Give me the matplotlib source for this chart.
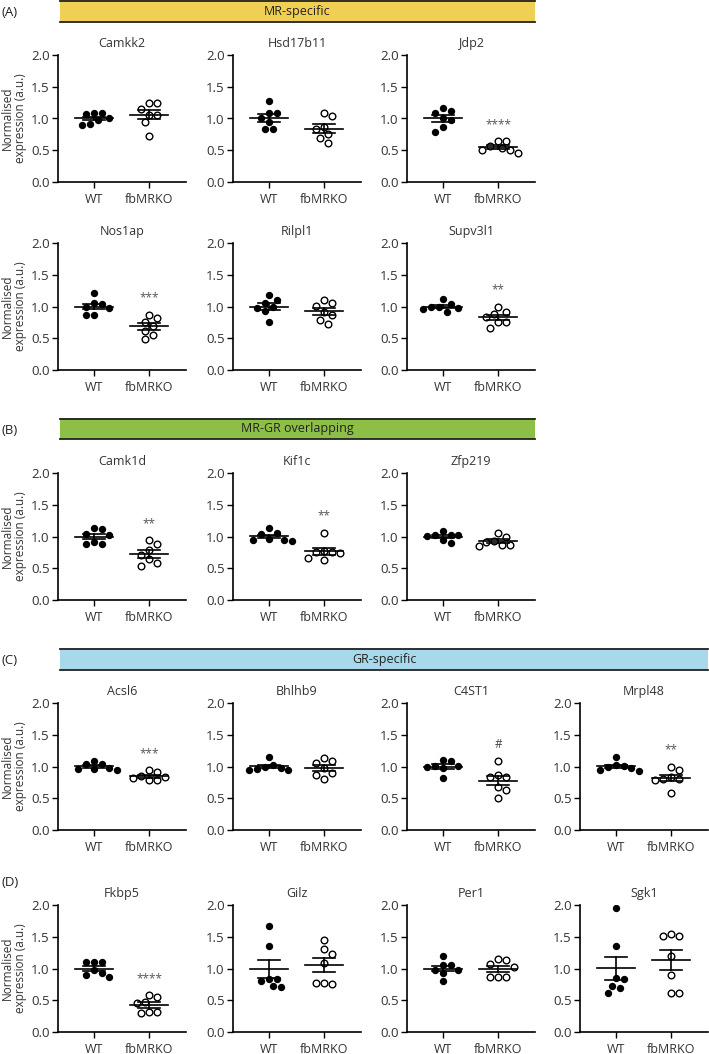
import numpy as np
import matplotlib
matplotlib.use('Agg')
import matplotlib.pyplot as plt
from matplotlib.patches import Rectangle
from matplotlib.lines import Line2D

plt.rcParams['font.family'] = ['Open Sans', 'DejaVu Sans']

# normalised expression, 7 animals per group
camkk2_wt = [1.08, 1.07, 1.08, 1.00, 0.97, 0.90, 0.91]
camkk2_ko = [1.24, 1.24, 1.15, 1.06, 1.06, 0.95, 0.73]
hsd17b11_wt = [1.27, 1.08, 1.08, 1.00, 0.95, 0.83, 0.83]
hsd17b11_ko = [1.09, 1.04, 0.86, 0.83, 0.75, 0.70, 0.62]
jdp2_wt = [1.16, 1.09, 1.12, 1.00, 0.98, 0.87, 0.78]
jdp2_ko = [0.56, 0.64, 0.64, 0.51, 0.46, 0.51, 0.53]
nos1ap_wt = [1.21, 1.04, 1.05, 1.00, 0.97, 0.87, 0.86]
nos1ap_ko = [0.87, 0.82, 0.75, 0.70, 0.62, 0.55, 0.49]
rilpl1_wt = [1.18, 1.11, 1.06, 1.00, 0.97, 0.93, 0.75]
rilpl1_ko = [1.10, 1.06, 1.01, 0.91, 0.87, 0.79, 0.73]
supv3l1_wt = [1.12, 1.00, 0.96, 0.92, 0.97, 0.99, 1.04]
supv3l1_ko = [1.00, 0.88, 0.92, 0.83, 0.76, 0.76, 0.66]
camk1d_wt = [1.13, 1.12, 1.04, 1.03, 0.92, 0.88, 0.88]
camk1d_ko = [0.94, 0.88, 0.78, 0.71, 0.64, 0.58, 0.54]
kif1c_wt = [1.14, 1.04, 1.05, 0.95, 0.94, 0.96, 0.93]
kif1c_ko = [1.06, 0.75, 0.75, 0.77, 0.74, 0.66, 0.63]
zfp219_wt = [1.02, 1.02, 1.02, 1.09, 0.89, 0.94, 1.01]
zfp219_ko = [1.05, 0.99, 0.93, 0.87, 0.85, 0.87, 0.92]
acsl6_wt = [1.04, 1.09, 1.04, 0.96, 0.95, 0.96, 0.97]
acsl6_ko = [0.94, 0.91, 0.85, 0.83, 0.78, 0.78, 0.82]
bhlhb9_wt = [1.15, 1.00, 0.96, 0.94, 0.98, 1.03, 0.95]
bhlhb9_ko = [1.14, 1.08, 1.05, 0.97, 0.89, 0.87, 0.80]
c4st1_wt = [1.09, 1.11, 1.01, 0.97, 0.99, 1.01, 0.82]
c4st1_ko = [1.08, 0.87, 0.83, 0.84, 0.68, 0.63, 0.51]
mrpl48_wt = [1.15, 1.01, 0.94, 0.93, 0.97, 1.02, 1.00]
mrpl48_ko = [1.00, 0.94, 0.84, 0.80, 0.80, 0.78, 0.59]
fkbp5_wt = [1.11, 1.11, 1.11, 0.98, 0.93, 0.87, 0.89]
fkbp5_ko = [0.58, 0.55, 0.47, 0.46, 0.31, 0.30, 0.31]
gilz_wt = [1.67, 1.36, 0.84, 0.84, 0.80, 0.72, 0.71]
gilz_ko = [1.45, 1.30, 1.23, 1.08, 0.77, 0.75, 0.77]
per1_wt = [1.20, 1.05, 1.06, 0.98, 0.93, 0.98, 0.80]
per1_ko = [1.15, 1.13, 1.07, 1.03, 0.86, 0.86, 0.86]
sgk1_wt = [1.96, 1.35, 0.85, 0.83, 0.73, 0.69, 0.61]
sgk1_ko = [1.51, 1.51, 1.55, 1.19, 0.90, 0.61, 0.62]

groups = ['WT', 'fbMRKO']
yticks = [0.0, 0.5, 1.0, 1.5, 2.0]

rows = [
    [('Camkk2', camkk2_wt, camkk2_ko, ''), ('Hsd17b11', hsd17b11_wt, hsd17b11_ko, ''),
     ('Jdp2', jdp2_wt, jdp2_ko, '****')],
    [('Nos1ap', nos1ap_wt, nos1ap_ko, '***'), ('Rilpl1', rilpl1_wt, rilpl1_ko, ''),
     ('Supv3l1', supv3l1_wt, supv3l1_ko, '**')],
    [('Camk1d', camk1d_wt, camk1d_ko, '**'), ('Kif1c', kif1c_wt, kif1c_ko, '**'),
     ('Zfp219', zfp219_wt, zfp219_ko, '')],
    [('Acsl6', acsl6_wt, acsl6_ko, '***'), ('Bhlhb9', bhlhb9_wt, bhlhb9_ko, ''),
     ('C4ST1', c4st1_wt, c4st1_ko, '#'), ('Mrpl48', mrpl48_wt, mrpl48_ko, '**')],
    [('Fkbp5', fkbp5_wt, fkbp5_ko, '****'), ('Gilz', gilz_wt, gilz_ko, ''),
     ('Per1', per1_wt, per1_ko, ''), ('Sgk1', sgk1_wt, sgk1_ko, '')],
]

W, H = 709, 1054
fig = plt.figure(figsize=(W / 100, H / 100), dpi=100)

col_left = [58, 233, 407, 580]
row_top = [55, 243, 473, 703, 905]
ax_w, ax_h = 128, 127
xlim = (-0.65, 1.67)
ppx = ax_w / (xlim[1] - xlim[0])   # pixels per x unit
ppy = ax_h / 2.0                   # pixels per y unit
dot = 7.8                          # pixel spacing between dots


def swarm(vals):
    # beeswarm: each point goes to the smallest free offset, filling the lighter side first
    vals = np.asarray(vals, float)
    xs = np.zeros(len(vals))
    done = []
    for i in np.argsort(-vals):
        y = vals[i] * ppy
        bal = sum(px for px, py in done)
        k = 0
        found = None
        while found is None:
            if k == 0:
                cands = [0]
            elif bal > 0:
                cands = [-k * dot / 2, k * dot / 2]
            else:
                cands = [k * dot / 2, -k * dot / 2]
            for off in cands:
                if all((off - px) ** 2 + (y - py) ** 2 >= dot ** 2 * 0.97 for px, py in done):
                    found = off
                    break
            k += 1
        xs[i] = found / ppx
        done.append((found, y))
    return xs


def fpos(x, y):
    return x / W, 1 - y / H


for r, row in enumerate(rows):
    for c, (gene, wt, ko, sig) in enumerate(row):
        l, b = fpos(col_left[c], row_top[r] + ax_h)
        ax = fig.add_axes([l, b, ax_w / W, ax_h / H])
        for g, vals in enumerate([wt, ko]):
            vals = np.asarray(vals)
            xs = g + swarm(vals)
            if g == 0:
                ax.scatter(xs, vals, s=28, color='black', zorder=3, linewidths=0)
            else:
                ax.scatter(xs, vals, s=23, facecolor='white', edgecolor='black',
                           linewidths=1.0, zorder=3)
            m = vals.mean()
            se = vals.std(ddof=1) / np.sqrt(len(vals))
            ax.plot([g - 0.35, g + 0.35], [m, m], color='black', lw=1.2, zorder=4)
            ax.plot([g - 0.2, g + 0.2], [m + se, m + se], color='black', lw=1.2, zorder=4)
            ax.plot([g - 0.2, g + 0.2], [m - se, m - se], color='black', lw=1.2, zorder=4)
            ax.plot([g, g], [m - se, m + se], color='black', lw=1.2, zorder=4)
        if sig:
            top = max(ko)
            ax.text(1, top + 0.16, sig, ha='center', va='bottom', fontsize=8.5,
                    color='#444' if sig == '#' else '#555')
        ax.set_xlim(*xlim)
        ax.set_ylim(0, 2)
        ax.set_yticks(yticks)
        ax.set_yticklabels(['%.1f' % t for t in yticks])
        ax.set_xticks([0, 1])
        ax.set_xticklabels(groups)
        for s in ['top', 'right']:
            ax.spines[s].set_visible(False)
        for s in ['left', 'bottom']:
            ax.spines[s].set_linewidth(1.2)
        ax.tick_params(length=4, width=1.0, labelsize=9.5, colors='black',
                       labelcolor='#333', pad=2)
        ax.tick_params(axis='x', pad=4, labelsize=9)
        ax.set_title(gene, fontsize=9, color='#333', pad=6)
        if c == 0:
            ax.set_ylabel('Normalised\nexpression (a.u.)', fontsize=8.5, color='#333',
                          labelpad=3, linespacing=0.95)

# coloured category bars
bars = [('MR-specific', '#F0CF55', 0, 22, 60, 535),
        ('MR-GR overlapping', '#8DBE45', 418, 439, 60, 535),
        ('GR-specific', '#A8D9EA', 648, 670, 60, 708)]
for label, col, y0, y1, x0, x1 in bars:
    l, b = fpos(x0, y1)
    fig.patches.append(Rectangle((l, b), (x1 - x0) / W, (y1 - y0) / H,
                                 transform=fig.transFigure, facecolor=col, edgecolor='none'))
    for yy in (y0 + 0.7, y1):
        fig.lines.append(Line2D([x0 / W, x1 / W], [1 - yy / H] * 2, transform=fig.transFigure,
                                color='#222', lw=1.3))
    fig.text((x0 + x1) / 2 / W, 1 - (y0 + y1) / 2 / H, label, ha='center', va='center',
             fontsize=9, color='#222')

for lab, y in [('(A)', 12), ('(B)', 430), ('(C)', 660), ('(D)', 883)]:
    fig.text(2 / W, 1 - y / H, lab, ha='left', va='center', fontsize=9.5, color='#222')

fig.savefig('out.png', dpi=100)
